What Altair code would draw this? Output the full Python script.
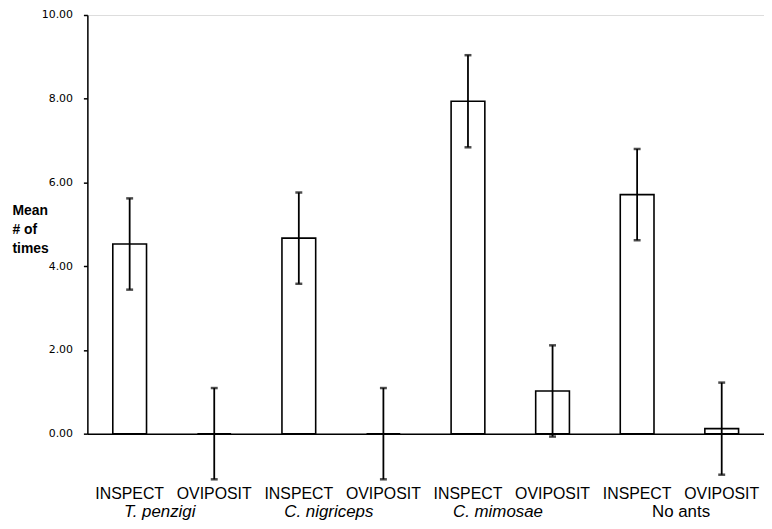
import altair as alt
import pandas as pd

groups = ["T. penzigi", "T. penzigi", "C. nigriceps", "C. nigriceps",
          "C. mimosae", "C. mimosae", "No ants", "No ants"]
behaviours = ["INSPECT", "OVIPOSIT", "INSPECT", "OVIPOSIT",
              "INSPECT", "OVIPOSIT", "INSPECT", "OVIPOSIT"]
means = [4.53, 0.0, 4.67, 0.0, 7.94, 1.02, 5.71, 0.12]
errors = [1.09, 1.09, 1.09, 1.09, 1.10, 1.09, 1.09, 1.10]
y_ticks = [0, 2, 4, 6, 8, 10]
italic_groups = ["T. penzigi", "C. nigriceps", "C. mimosae"]

keys = [f"{i}|{b}" for i, b in enumerate(behaviours)]
df = pd.DataFrame({"key": keys, "group": groups, "behaviour": behaviours,
                   "mean": means, "err": errors})
df["lo"] = df["mean"] - df["err"]
df["hi"] = df["mean"] + df["err"]
df["italic"] = df["group"].isin(italic_groups)

FONT = "Liberation Sans"

x_enc = alt.X("key:N", sort=keys,
              scale=alt.Scale(paddingInner=0, paddingOuter=0),
              axis=alt.Axis(labelExpr="split(datum.value, '|')[1]", labelAngle=0,
                            ticks=False, title=None, labelFont=FONT, labelFontSize=16,
                            labelColor="black", labelPadding=52, domainColor="black",
                            domainWidth=1.5, labelBaseline="top"))
y_scale = alt.Scale(domain=[0, 10], nice=False, zero=True)

base = alt.Chart(df)

bars = base.mark_bar(size=34, fill="white", stroke="black", strokeWidth=1.6).encode(
    x=x_enc,
    y=alt.Y("mean:Q", scale=y_scale,
            axis=alt.Axis(values=y_ticks, format=".2f", tickSize=4, tickColor="black",
                          tickWidth=1.5, labelPadding=11, labelFont="DejaVu Sans",
                          labelFontSize=11, labelColor="black", grid=False,
                          domainColor="black", domainWidth=1.5,
                          title=["Mean", "# of", "times"], titleAngle=0,
                          titleAlign="left", titleBaseline="top", titleX=-76,
                          titleY=190, titleFont=FONT, titleFontWeight="bold",
                          titleFontSize=14, titleLineHeight=19, titleColor="black")),
)

rules = base.mark_rule(color="black", strokeWidth=1.8).encode(
    x=alt.X("key:N", sort=keys),
    y=alt.Y("lo:Q", scale=y_scale),
    y2="hi:Q",
)

caps_lo = base.mark_tick(color="black", size=7, thickness=2.5, orient="horizontal").encode(
    x=alt.X("key:N", sort=keys),
    y=alt.Y("lo:Q", scale=y_scale),
)
caps_hi = base.mark_tick(color="black", size=7, thickness=2.5, orient="horizontal").encode(
    x=alt.X("key:N", sort=keys),
    y=alt.Y("hi:Q", scale=y_scale),
)

group_it = base.transform_filter(
    (alt.datum.behaviour == "OVIPOSIT") & alt.datum.italic
).mark_text(font=FONT, fontSize=17, fontStyle="italic", color="black",
            align="center", baseline="middle", dx=-55).encode(
    x=alt.X("key:N", sort=keys),
    y=alt.value(501),
    text="group:N",
)
group_norm = base.transform_filter(
    (alt.datum.behaviour == "OVIPOSIT") & (alt.datum.italic == False)
).mark_text(font=FONT, fontSize=17, color="black",
            align="center", baseline="middle", dx=-41).encode(
    x=alt.X("key:N", sort=keys),
    y=alt.value(501),
    text="group:N",
)

chart = alt.layer(bars, rules, caps_lo, caps_hi, group_it, group_norm).properties(
    width=682, height=422,
    autosize=alt.AutoSizeParams(type="none"),
    padding={"left": 80, "top": 5, "right": 0, "bottom": 90},
).configure_view(stroke="black", strokeWidth=1.5).configure(background="white")

chart.save("out.html", embed_options={"renderer": "svg", "actions": False})
